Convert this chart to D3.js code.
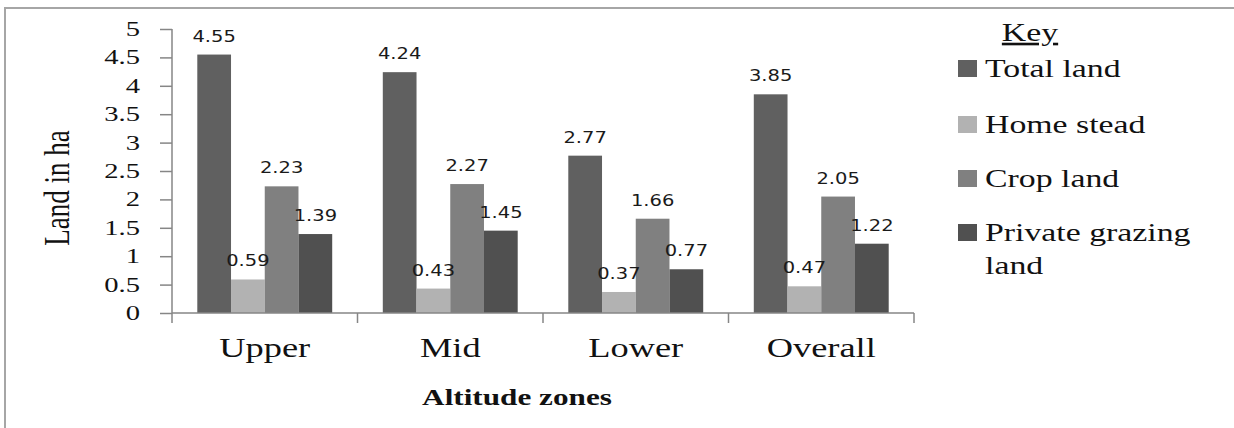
<!DOCTYPE html>
<html>
<head>
<meta charset="utf-8">
<script src="https://cdn.jsdelivr.net/npm/d3@7/dist/d3.min.js"></script>
<style>
  html, body { margin: 0; padding: 0; background: #fff; }
  .serif { font-family: "Liberation Serif", "Times New Roman", serif; }
</style>
</head>
<body>
<div id="chart"></div>
<script>
// data
const zones = ['Upper', 'Mid', 'Lower', 'Overall']
const series = ['Total land', 'Home stead', 'Crop land', 'Private grazing land']
const totalLand = [4.55, 4.24, 2.77, 3.85]
const homeStead = [0.59, 0.43, 0.37, 0.47]
const cropLand = [2.23, 2.27, 1.66, 2.05]
const privateGrazing = [1.39, 1.45, 0.77, 1.22]
const yTicks = [0, 0.5, 1, 1.5, 2, 2.5, 3, 3.5, 4, 4.5, 5]

const values = [totalLand, homeStead, cropLand, privateGrazing]
const colors = ['#606060', '#b2b2b2', '#808080', '#505050']

const width = 1234
const height = 428
const SX = 1.3 // the source picture is stretched sideways, text too

const svg = d3.select('#chart')
  .append('svg')
  .attr('width', width)
  .attr('height', height)

// outer frame (only left and top visible)
svg.append('rect')
  .attr('x', 5).attr('y', 8)
  .attr('width', 1260).attr('height', 450)
  .attr('fill', 'none')
  .attr('stroke', '#a6a6a6')
  .attr('stroke-width', 2)

const plot = { left: 172, right: 914, top: 29, bottom: 313 }

const x0 = d3.scaleBand().domain(zones).range([plot.left, plot.right]).padding(0)
const x1 = d3.scaleBand().domain(series).range([0, x0.bandwidth()])
  .paddingInner(0).paddingOuter(0.75)
const y = d3.scaleLinear().domain([0, 5]).range([plot.bottom, plot.top])

// helper: stretched serif text
function stext(sel, x, yy, txt, size) {
  return sel.append('text')
    .attr('class', 'serif')
    .attr('transform', `translate(${x},${yy}) scale(${SX},1)`)
    .attr('font-size', size)
    .attr('fill', '#111')
    .text(txt)
}

// bars
const rows = zones.map((z, i) => ({ zone: z, vals: series.map((s, j) => ({ s, j, v: values[j][i] })) }))

const groups = svg.append('g')
  .selectAll('g')
  .data(rows)
  .join('g')
  .attr('transform', (d) => `translate(${x0(d.zone)},0)`)

groups.selectAll('rect')
  .data((d) => d.vals)
  .join('rect')
  .attr('x', (d) => x1(d.s))
  .attr('y', (d) => y(d.v))
  .attr('width', x1.bandwidth())
  .attr('height', (d) => y(0) - y(d.v))
  .attr('fill', (d) => colors[d.j])

// value labels
groups.selectAll('text')
  .data((d) => d.vals)
  .join('text')
  .attr('transform', (d) => `translate(${x1(d.s) + x1.bandwidth() / 2},${y(d.v) - 13}) scale(${SX},1)`)
  .attr('text-anchor', 'middle')
  .attr('font-family', '"DejaVu Sans", Verdana, sans-serif')
  .attr('font-size', 15)
  .attr('fill', '#1a1a1a')
  .text((d) => d.v.toFixed(2))

// y axis
const yAxis = svg.append('g')
  .attr('transform', `translate(${plot.left},0)`)
  .call(d3.axisLeft(y).tickValues(yTicks).tickSize(12).tickFormat(''))
yAxis.select('.domain').attr('stroke', '#868686').attr('stroke-width', 1.5).attr('d', `M0,${plot.top}V${plot.bottom}`)
yAxis.selectAll('.tick line').attr('stroke', '#868686').attr('stroke-width', 1.5)

const yLab = svg.append('g')
yTicks.forEach((t) => {
  stext(yLab, 140, y(t) + 7, String(t), 22).attr('text-anchor', 'end')
})

// x axis
svg.append('g')
  .attr('transform', `translate(0,${plot.bottom})`)
  .call(d3.axisBottom(x0).tickSize(0).tickFormat(''))
  .select('.domain')
  .attr('stroke', '#868686').attr('stroke-width', 1.5)
  .attr('d', `M${plot.left},0H${plot.right}`)
const bounds = zones.map((z) => x0(z)).concat([plot.right])
svg.append('g').selectAll('line')
  .data(bounds)
  .join('line')
  .attr('x1', (d) => d).attr('x2', (d) => d)
  .attr('y1', plot.bottom).attr('y2', plot.bottom + 10)
  .attr('stroke', '#868686').attr('stroke-width', 1.5)

const xLab = svg.append('g')
zones.forEach((z) => {
  stext(xLab, x0(z) + x0.bandwidth() / 2, 357, z, 28).attr('text-anchor', 'middle')
})

// axis titles
stext(svg, 517, 405, 'Altitude zones', 24)
  .attr('text-anchor', 'middle')
  .attr('font-weight', 'bold')

svg.append('text')
  .attr('class', 'serif')
  .attr('transform', `translate(69,188) scale(${SX},1) rotate(-90)`)
  .attr('text-anchor', 'middle')
  .attr('font-size', 27)
  .attr('fill', '#111')
  .text('Land in ha')

// legend
stext(svg, 1030, 41, 'Key', 26)
  .attr('text-anchor', 'middle')
  .style('text-decoration', 'underline')

const legendY = [77, 133, 187, 241]
const legend = svg.append('g')
series.forEach((s, i) => {
  legend.append('rect')
    .attr('x', 958).attr('y', legendY[i] - 17)
    .attr('width', 19).attr('height', 17)
    .attr('fill', colors[i])
  // wrap long labels
  const words = s.split(' ')
  const lines = [words[0]]
  words.slice(1).forEach((w) => {
    const test = lines[lines.length - 1] + ' ' + w
    const probe = stext(legend, 0, 0, test, 26)
    const len = probe.node().getComputedTextLength() * SX
    probe.remove()
    if (len > 230) lines.push(w)
    else lines[lines.length - 1] = test
  })
  lines.forEach((l, k) => {
    stext(legend, 985, legendY[i] + k * 33, l, 26)
  })
})
</script>
</body>
</html>
